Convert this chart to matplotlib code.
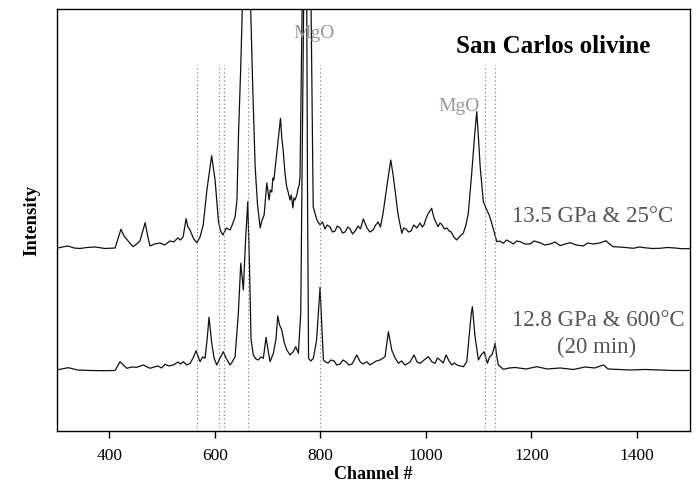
import matplotlib
matplotlib.use("Agg")
import matplotlib.pyplot as plt
import numpy as np

# ---- data (channel, intensity a.u.) ----
upper_channel = [300, 311, 322, 333, 344, 358, 373, 392, 411, 422, 428, 434, 445, 452, 458, 468,
                 472, 477, 486, 496, 505, 515, 522, 530, 535, 540,
                 545.5, 549, 553, 560, 566, 572, 578, 585, 594, 600.5, 607, 611, 615.5, 622, 629,
                 633, 638.5, 642, 645, 649,
                 652, 660, 668, 671.5, 676.5, 681, 686, 689, 693.5, 698.5, 703, 705, 708, 710,
                 712, 718, 724.5, 727, 729.5, 733, 736, 739, 742.5, 745, 748, 750, 752, 755.5,
                 758, 760, 761.5, 765.5, 774,
                 782.5, 786.5, 793.5, 799.5, 804, 809, 813, 818.5, 823, 828, 832, 837.5, 842,
                 847, 852, 856.5, 861, 866, 871.5,
                 876, 881.5, 888.5, 894, 900, 905, 909.5, 914, 919, 926.5, 933.5, 938, 941.5,
                 947.5, 954.5, 958, 962.5, 967,
                 972, 977, 983, 989, 993, 996.5, 1000, 1004, 1011, 1015.5, 1023, 1027, 1031, 1035,
                 1040, 1044, 1048, 1053, 1058.5,
                 1065, 1071, 1076, 1080.5, 1087, 1092.5, 1096.5, 1100, 1103, 1109, 1115.5,
                 1120, 1125, 1129.5, 1134.5, 1140, 1147, 1153, 1160, 1166, 1172, 1179, 1188,
                 1197.5, 1205, 1216.5, 1225, 1235.5, 1245,
                 1254.5, 1264, 1273.5, 1285, 1298, 1307, 1317, 1330, 1341.5, 1348, 1355, 1366,
                 1378, 1393, 1405, 1415.5, 1430, 1444, 1458,
                 1472.5, 1486, 1500]
upper_intensity = [7.7, 9, 10, 8, 7.5, 8.5, 9, 7.5, 8, 26.7, 20, 16, 9.3, 12, 15, 33.3,
                   22, 10, 12, 13, 11, 15, 14, 18, 16, 19.3,
                   37.3, 29, 26, 17, 13.3, 19, 31, 66, 100.3, 76, 34, 25, 21, 28, 26,
                   31, 39.3, 56, 123, 186,
                   247, 385, 247, 176, 89, 51, 28, 35, 41, 73, 56, 66, 64, 78,
                   76, 106, 137.7, 118, 106, 83, 70, 64, 56, 61, 48, 58, 56, 61,
                   68, 71, 79, 247, 625,
                   247, 49, 36, 31, 34, 27, 31, 29, 24, 25, 30, 28, 23,
                   24, 29, 27, 22, 25, 30,
                   27, 37, 28, 24, 26, 31, 34, 29, 43, 71, 96, 81, 66,
                   41, 22.7, 28, 27, 24,
                   25, 31, 28, 33, 29, 31, 37, 42, 47.7, 38, 29.3, 33, 31, 27,
                   28, 25, 24, 19, 16,
                   20, 22.7, 31, 42.7, 83, 121, 144.3, 116, 89.3, 54.3, 46,
                   41, 32.7, 24, 14.3, 15, 12.7, 16, 14, 12, 15, 14.3, 12,
                   12, 15, 13.3, 11, 12, 14,
                   10.3, 12, 13.3, 11, 10, 13, 12, 13, 15.3, 12, 9.3, 9,
                   8.5, 7.7, 9, 8.2, 7.5, 7.7, 8.5,
                   8, 7.2, 7.5]

lower_channel = [300, 322.4, 340, 363.5, 390, 411, 420.4, 433, 443, 452, 464.5, 477.2, 485,
                 492.4, 499, 505.7, 513, 521.4,
                 530.3, 535, 540.4, 547, 553.1, 558.8, 564.5, 572, 577, 581.5, 585.3, 589, 594.2,
                 598.6,
                 603.7, 610, 616.2, 621.3, 628.9, 633, 638.4, 644.6, 649.2, 654.1, 658.3, 662.5,
                 665.9, 668.7, 673.1, 678, 682.5, 687, 692, 697.1, 700.9, 704.7, 711, 716, 719.3,
                 722.7, 726.9, 731.3, 736.4, 739, 742.6, 748.3, 753.4, 758.4, 762.9, 768.2,
                 771.5, 774.3,
                 775.8, 777.7, 782, 786.8, 792.9, 799.5, 802.4, 805.8, 810, 814.7, 820, 826.1,
                 831, 837.4, 843, 848.8,
                 854, 860.2, 869.1, 875.3, 881, 888, 894, 900, 906, 913.3, 922.7, 929, 935.4,
                 941.7, 948, 954, 960.7,
                 970.1, 977.7, 983.4, 989.1, 996.7, 1004.8, 1011.8, 1017.5, 1022, 1027, 1033,
                 1038.4, 1044,
                 1049.2, 1054, 1059.2, 1065, 1071.2, 1077.6, 1082.5, 1085.8, 1088.2, 1090.5,
                 1093.3,
                 1099.6, 1104.7, 1110.4, 1116.7, 1120.8, 1125, 1128.4, 1131.3, 1134.1,
                 1137.5, 1147, 1158, 1169.2, 1190, 1210.3, 1230, 1254.5, 1280, 1301.8, 1320,
                 1336.6, 1345.5, 1365, 1387.2, 1415, 1444, 1470,
                 1499]
lower_intensity = [9, 11.3, 9, 8.5, 8.3, 8.5, 17.3, 10.7, 12, 11.7, 14, 10.7, 12,
                   13, 11, 14.7, 13, 14,
                   17, 15, 17.3, 14, 15.7, 21, 28.3, 17.3, 22, 20.7, 39, 61.7, 35.7,
                   21,
                   14, 21, 27.3, 21, 14, 17, 22.3, 65.7, 115.7, 89, 139, 177.3,
                   109, 39, 24, 20, 19, 22, 20.7, 41.7, 29, 17.3, 25.7, 40, 63,
                   54, 49, 37, 29, 27, 24, 27, 32.3, 25.7, 66, 370,
                   500, 370,
                   179, 20.7, 18, 20.7, 39, 91.7, 59, 19, 17, 16, 19, 18,
                   14, 15, 19, 17,
                   14, 15, 24, 17.3, 15, 17.3, 14, 16, 18, 19, 22.3, 47.3, 29,
                   21, 15.7, 18, 14,
                   17, 24, 17, 15.7, 19, 22.3, 17, 15.7, 21, 19, 16,
                   24, 18,
                   14, 16, 14, 13, 12.3, 17.3, 45.7, 64, 72.3, 59,
                   42.3,
                   19, 24, 27.3, 15.7, 22, 24, 29, 35.7, 24,
                   14, 9.7, 11, 11.5, 10, 12.3, 10, 11, 9.5, 12, 11,
                   14, 10, 9.5, 9, 9.5, 9, 8.5,
                   8.5]

upper_offset = 175
lower_offset = 52

marker_lines = [566, 607, 617, 662, 800, 1112, 1131]
x_ticks = [400, 600, 800, 1000, 1200, 1400]

serif = ["Liberation Serif", "DejaVu Serif"]
plt.rcParams["font.family"] = serif

fig = plt.figure(figsize=(6.98, 4.86), dpi=100)
ax = fig.add_axes([0.081, 0.1132, 0.907, 0.8683])

ax.plot(upper_channel, np.array(upper_intensity) + upper_offset, color="#111111", lw=0.9)
ax.plot(lower_channel, np.array(lower_intensity) + lower_offset, color="#111111", lw=0.9)

ax.vlines(marker_lines, 0, 366, colors="#777777", linestyles=(0, (1, 2.5)), lw=0.8)

ax.set_xlim(300, 1500)
ax.set_ylim(0, 422)
ax.set_xticks(x_ticks)
ax.set_xticklabels([str(t) for t in x_ticks], fontsize=12.5)
ax.set_yticks([])
ax.tick_params(axis="x", direction="out", length=5, width=1, pad=7)
for s in ax.spines.values():
    s.set_linewidth(1)
    s.set_color("black")

ax.set_xlabel("Channel #", fontsize=13, fontweight="bold", labelpad=2)
ax.set_ylabel("Intensity", fontsize=13.5, fontweight="bold", labelpad=12)

ax.text(0.785, 0.912, "San Carlos olivine", transform=ax.transAxes, ha="center",
        va="center", fontsize=18, fontweight="bold", color="black")
ax.text(0.846, 0.508, "13.5 GPa & 25°C", transform=ax.transAxes, ha="center",
        va="center", fontsize=16.5, color="#555555")
ax.text(0.856, 0.263, "12.8 GPa & 600°C", transform=ax.transAxes, ha="center",
        va="center", fontsize=16.5, color="#555555")
ax.text(0.853, 0.197, "(20 min)", transform=ax.transAxes, ha="center",
        va="center", fontsize=16.5, color="#555555")
ax.text(0.4065, 0.941, "MgO", transform=ax.transAxes, ha="center", va="center",
        fontsize=14, color="#999999")
ax.text(0.635, 0.770, "MgO", transform=ax.transAxes, ha="center", va="center",
        fontsize=14, color="#999999")

fig.savefig("out.png", dpi=100)
